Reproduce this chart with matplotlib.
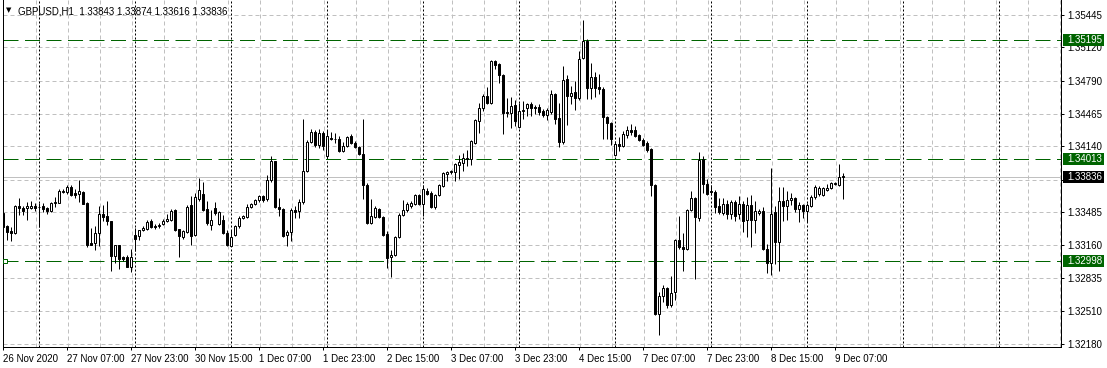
import numpy as np
import matplotlib
matplotlib.use("Agg")
import matplotlib.pyplot as plt
from matplotlib.patches import Rectangle
import matplotlib.transforms as mtransforms

plt.rcParams['font.family'] = ['Liberation Sans', 'DejaVu Sans']

symbol = "GBPUSD,H1"

# hourly bars, 26 Nov 2020 15:00 .. 9 Dec 2020 09:00
opens = [
    1.3348, 1.3335, 1.3330, 1.3328, 1.3355, 1.3353, 1.3353, 1.3353, 1.3355, 1.3354,
    1.3355, 1.3353, 1.3350, 1.3358, 1.3358, 1.3369, 1.3369, 1.3374, 1.3368, 1.3367,
    1.3369, 1.3358, 1.3318, 1.3318, 1.3328, 1.3347, 1.3345, 1.3340, 1.3305, 1.3316,
    1.3304, 1.3304, 1.3294, 1.3326, 1.3325, 1.3331, 1.3332, 1.3340, 1.3335, 1.3335,
    1.3337, 1.3340, 1.3341, 1.3351, 1.3332, 1.3324, 1.3329, 1.3356, 1.3326, 1.3362,
    1.3367, 1.3352, 1.3336, 1.3353, 1.3337, 1.3341, 1.3328, 1.3315, 1.3326, 1.3335,
    1.3343, 1.3344, 1.3354, 1.3357, 1.3361, 1.3365, 1.3362, 1.3381, 1.3399, 1.3354,
    1.3352, 1.3326, 1.3329, 1.3351, 1.3350, 1.3359, 1.3389, 1.3418, 1.3428, 1.3415,
    1.3427, 1.3404, 1.3422, 1.3421, 1.3421, 1.3409, 1.3414, 1.3424, 1.3417, 1.3413,
    1.3406, 1.3376, 1.3338, 1.3344, 1.3352, 1.3344, 1.3327, 1.3304, 1.3306, 1.3324,
    1.3346, 1.3351, 1.3355, 1.3357, 1.3366, 1.3357, 1.3370, 1.3368, 1.3354, 1.3366,
    1.3375, 1.3387, 1.3388, 1.3388, 1.3395, 1.3397, 1.3401, 1.3401, 1.3417, 1.3439,
    1.3452, 1.3464, 1.3457, 1.3499, 1.3496, 1.3485, 1.3448, 1.3447, 1.3455, 1.3433,
    1.3449, 1.3452, 1.3456, 1.3453, 1.3453, 1.3449, 1.3445, 1.3448, 1.3466, 1.3442,
    1.3418, 1.3481, 1.3464, 1.3468, 1.3462, 1.3502, 1.3518, 1.3472, 1.3483, 1.3473,
    1.3471, 1.3443, 1.3437, 1.3405, 1.3416, 1.3414, 1.3425, 1.3430, 1.3430, 1.3425,
    1.3420, 1.3417, 1.3411, 1.3376, 1.3248, 1.3265, 1.3273, 1.3257, 1.3269, 1.3321,
    1.3314, 1.3312, 1.3351, 1.3363, 1.3343, 1.3401, 1.3377, 1.3370, 1.3369, 1.3355,
    1.3348, 1.3357, 1.3347, 1.3359, 1.3347, 1.3357, 1.3341, 1.3356, 1.3341, 1.3348,
    1.3350, 1.3312, 1.3298, 1.3349, 1.3319, 1.3360, 1.3355, 1.3361, 1.3363, 1.3352,
    1.3356, 1.3350, 1.3355, 1.3364, 1.3367, 1.3366, 1.3371, 1.3373, 1.3377, 1.3376,
    1.33843,
]
highs = [
    1.3353, 1.3336, 1.3334, 1.3356, 1.3363, 1.3355, 1.3359, 1.3360, 1.3358, 1.3358,
    1.3358, 1.3354, 1.3359, 1.3364, 1.3372, 1.3372, 1.3376, 1.3376, 1.3372, 1.3381,
    1.3370, 1.3359, 1.3333, 1.3335, 1.3355, 1.3356, 1.3360, 1.3340, 1.3316, 1.3316,
    1.3305, 1.3306, 1.3312, 1.3333, 1.3331, 1.3335, 1.3341, 1.3342, 1.3337, 1.3338,
    1.3342, 1.3347, 1.3352, 1.3352, 1.3332, 1.3331, 1.3356, 1.3365, 1.3368, 1.3383,
    1.3379, 1.3360, 1.3351, 1.3359, 1.3350, 1.3346, 1.3331, 1.3331, 1.3336, 1.3345,
    1.3346, 1.3357, 1.3358, 1.3362, 1.3366, 1.3366, 1.3386, 1.3404, 1.3399, 1.3363,
    1.3353, 1.3331, 1.3353, 1.3355, 1.3362, 1.3441, 1.3420, 1.3431, 1.3430, 1.3431,
    1.3429, 1.3430, 1.3428, 1.3427, 1.3424, 1.3418, 1.3424, 1.3426, 1.3419, 1.3414,
    1.3441, 1.3378, 1.3362, 1.3355, 1.3353, 1.3345, 1.3330, 1.3311, 1.3325, 1.3348,
    1.3361, 1.3359, 1.3360, 1.3367, 1.3367, 1.3376, 1.3373, 1.3370, 1.3367, 1.3377,
    1.3388, 1.3389, 1.3390, 1.3397, 1.3405, 1.3407, 1.3410, 1.3420, 1.3441, 1.3457,
    1.3466, 1.3473, 1.3500, 1.3500, 1.3497, 1.3486, 1.3462, 1.3463, 1.3460, 1.3457,
    1.3459, 1.3457, 1.3458, 1.3455, 1.3456, 1.3451, 1.3452, 1.3470, 1.3467, 1.3457,
    1.3494, 1.3485, 1.3474, 1.3479, 1.3509, 1.3539, 1.3520, 1.3497, 1.3488, 1.3486,
    1.3473, 1.3444, 1.3438, 1.3419, 1.3423, 1.3429, 1.3434, 1.3436, 1.3434, 1.3426,
    1.3422, 1.3419, 1.3412, 1.3377, 1.3269, 1.3276, 1.3274, 1.3285, 1.3322, 1.3345,
    1.3328, 1.3352, 1.3370, 1.3364, 1.3408, 1.3404, 1.3382, 1.3376, 1.3371, 1.3363,
    1.3363, 1.3361, 1.3361, 1.3361, 1.3365, 1.3360, 1.3364, 1.3366, 1.3360, 1.3352,
    1.3354, 1.3317, 1.3392, 1.3355, 1.3374, 1.3374, 1.3370, 1.3368, 1.3364, 1.3359,
    1.3357, 1.3358, 1.3366, 1.3376, 1.3375, 1.3374, 1.3377, 1.3379, 1.3379, 1.3396,
    1.33874,
]
lows = [
    1.3329, 1.3321, 1.3320, 1.3327, 1.3346, 1.3346, 1.3341, 1.3352, 1.3350, 1.3334,
    1.3349, 1.3347, 1.3349, 1.3354, 1.3358, 1.3368, 1.3367, 1.3365, 1.3363, 1.3359,
    1.3357, 1.3314, 1.3316, 1.3311, 1.3315, 1.3340, 1.3336, 1.3290, 1.3298, 1.3292,
    1.3300, 1.3294, 1.3289, 1.3310, 1.3321, 1.3330, 1.3331, 1.3333, 1.3332, 1.3333,
    1.3336, 1.3339, 1.3340, 1.3330, 1.3304, 1.3322, 1.3328, 1.3316, 1.3325, 1.3360,
    1.3350, 1.3336, 1.3331, 1.3346, 1.3336, 1.3327, 1.3315, 1.3315, 1.3325, 1.3333,
    1.3342, 1.3343, 1.3353, 1.3356, 1.3359, 1.3359, 1.3360, 1.3379, 1.3353, 1.3345,
    1.3324, 1.3315, 1.3320, 1.3343, 1.3343, 1.3357, 1.3388, 1.3417, 1.3413, 1.3412,
    1.3410, 1.3402, 1.3420, 1.3417, 1.3408, 1.3408, 1.3413, 1.3416, 1.3412, 1.3405,
    1.3362, 1.3337, 1.3337, 1.3343, 1.3343, 1.3325, 1.3293, 1.3284, 1.3305, 1.3323,
    1.3345, 1.3349, 1.3353, 1.3356, 1.3356, 1.3345, 1.3366, 1.3353, 1.3352, 1.3365,
    1.3374, 1.3380, 1.3387, 1.3380, 1.3382, 1.3389, 1.3394, 1.3395, 1.3416, 1.3427,
    1.3449, 1.3456, 1.3456, 1.3491, 1.3477, 1.3426, 1.3443, 1.3432, 1.3434, 1.3432,
    1.3441, 1.3444, 1.3444, 1.3446, 1.3445, 1.3443, 1.3440, 1.3446, 1.3436, 1.3413,
    1.3416, 1.3435, 1.3456, 1.3450, 1.3460, 1.3501, 1.3461, 1.3461, 1.3463, 1.3466,
    1.3421, 1.3421, 1.3415, 1.3404, 1.3409, 1.3413, 1.3422, 1.3425, 1.3423, 1.3419,
    1.3414, 1.3408, 1.3365, 1.3247, 1.3227, 1.3260, 1.3254, 1.3255, 1.3262, 1.3312,
    1.3290, 1.3311, 1.3350, 1.3282, 1.3340, 1.3368, 1.3366, 1.3366, 1.3348, 1.3347,
    1.3346, 1.3342, 1.3342, 1.3340, 1.3342, 1.3329, 1.3324, 1.3314, 1.3328, 1.3346,
    1.3311, 1.3288, 1.3286, 1.3297, 1.3290, 1.3340, 1.3341, 1.3356, 1.3349, 1.3339,
    1.3343, 1.3339, 1.3354, 1.3362, 1.3365, 1.3365, 1.3370, 1.3372, 1.3376, 1.3375,
    1.33616,
]
closes = [
    1.3334, 1.3329, 1.3328, 1.3355, 1.3353, 1.3350, 1.3355, 1.3355, 1.3353, 1.3354,
    1.3352, 1.3350, 1.3358, 1.3359, 1.3370, 1.3370, 1.3374, 1.3366, 1.3366, 1.3370,
    1.3357, 1.3316, 1.3316, 1.3328, 1.3347, 1.3344, 1.3340, 1.3305, 1.3316, 1.3302,
    1.3302, 1.3294, 1.3304, 1.3322, 1.3331, 1.3333, 1.3339, 1.3334, 1.3334, 1.3336,
    1.3340, 1.3342, 1.3350, 1.3331, 1.3325, 1.3330, 1.3354, 1.3325, 1.3364, 1.3371,
    1.3351, 1.3338, 1.3341, 1.3348, 1.3349, 1.3328, 1.3316, 1.3324, 1.3335, 1.3343,
    1.3345, 1.3354, 1.3357, 1.3361, 1.3365, 1.3361, 1.3381, 1.3399, 1.3354, 1.3352,
    1.3325, 1.3329, 1.3351, 1.3349, 1.3359, 1.3389, 1.3418, 1.3428, 1.3415, 1.3427,
    1.3414, 1.3424, 1.3421, 1.3421, 1.3409, 1.3414, 1.3423, 1.3417, 1.3413, 1.3406,
    1.3376, 1.3338, 1.3345, 1.3353, 1.3344, 1.3326, 1.3303, 1.3306, 1.3324, 1.3346,
    1.3351, 1.3357, 1.3358, 1.3366, 1.3357, 1.3372, 1.3367, 1.3354, 1.3366, 1.3376,
    1.3387, 1.3388, 1.3389, 1.3396, 1.3398, 1.3402, 1.3402, 1.3419, 1.3440, 1.3452,
    1.3464, 1.3457, 1.3499, 1.3495, 1.3485, 1.3447, 1.3447, 1.3454, 1.3439, 1.3449,
    1.3450, 1.3456, 1.3452, 1.3452, 1.3448, 1.3445, 1.3450, 1.3466, 1.3441, 1.3418,
    1.3480, 1.3464, 1.3467, 1.3462, 1.3501, 1.3518, 1.3472, 1.3483, 1.3472, 1.3471,
    1.3443, 1.3437, 1.3421, 1.3416, 1.3414, 1.3426, 1.3430, 1.3428, 1.3424, 1.3420,
    1.3415, 1.3410, 1.3376, 1.3248, 1.3265, 1.3273, 1.3257, 1.3268, 1.3321, 1.3314,
    1.3312, 1.3351, 1.3363, 1.3344, 1.3400, 1.3377, 1.3367, 1.3369, 1.3354, 1.3349,
    1.3357, 1.3347, 1.3359, 1.3345, 1.3357, 1.3340, 1.3356, 1.3341, 1.3350, 1.3350,
    1.3312, 1.3298, 1.3347, 1.3319, 1.3360, 1.3355, 1.3361, 1.3363, 1.3352, 1.3356,
    1.3350, 1.3356, 1.3364, 1.3374, 1.3373, 1.3373, 1.3373, 1.3378, 1.3378, 1.3384,
    1.33836,
]

price_ticks = [1.32180, 1.32510, 1.32835, 1.33160, 1.33485, 1.33810,
               1.34140, 1.34465, 1.34790, 1.35120, 1.35445]
level_lines = [1.35195, 1.34013, 1.32998]
bid = 1.33836

label_bars = [0, 16, 32, 48, 64, 80, 96, 112, 128, 144, 160, 176, 192, 208]
time_labels = ["26 Nov 2020", "27 Nov 07:00", "27 Nov 23:00", "30 Nov 15:00",
               "1 Dec 07:00", "1 Dec 23:00", "2 Dec 15:00", "3 Dec 07:00",
               "3 Dec 23:00", "4 Dec 15:00", "7 Dec 07:00", "7 Dec 23:00",
               "8 Dec 15:00", "9 Dec 07:00"]
day_starts = [9, 33, 57, 81, 105, 129, 153, 177, 201, 225, 249]


def main():
    W, H = 1107, 368
    fig = plt.figure(figsize=(W / 100, H / 100), dpi=100)
    ax = fig.add_axes([3 / W, 21 / H, 1058 / W, 347 / H])

    o = np.array(opens)
    h = np.array(highs)
    l = np.array(lows)
    c = np.array(closes)
    x = np.arange(len(c))

    ax.set_xlim(-0.08, 264.4)
    ax.set_ylim(1.32149, 1.35591)

    px = 0.72  # one pixel in points
    green = '#006400'

    # grid
    for p in price_ticks:
        ax.axhline(p, color='#c0c0c0', lw=px, ls=(0, (4, 3)), zorder=1)
    for b in range(8, 265, 8):
        ax.axvline(b + 0.2, color='#c0c0c0', lw=px, ls=(0, (4, 3)), zorder=1)
    for b in day_starts:
        ax.axvline(b, color='black', lw=px, ls=(0, (2, 2)), zorder=2)

    # bid line and levels
    ax.axhline(bid, color='#c0c0c0', lw=px, zorder=2)
    for p in level_lines:
        ax.axhline(p, color=green, lw=px, ls=(0, (15, 6.5)), zorder=2)

    # candles
    up = c >= o
    ax.vlines(x, l, h, color='black', lw=px, zorder=3)
    ax.bar(x, np.abs(c - o), bottom=np.minimum(o, c), width=0.5,
           color=np.where(up, 'white', 'black'), edgecolor='black',
           linewidth=px, zorder=4)

    blend = mtransforms.blended_transform_factory(ax.transAxes, ax.transData)
    ax.plot([0.0022], [level_lines[2]], marker='s', ms=3.2, mfc='white',
            mec=green, mew=px, transform=blend, clip_on=False, zorder=5)

    # axes styling
    for s in ['left', 'right', 'bottom']:
        ax.spines[s].set_linewidth(px)
    ax.spines['top'].set_visible(False)

    # the tick label nearest the bid is covered by the bid tag
    ax.yaxis.tick_right()
    ax.set_yticks(price_ticks)
    ax.set_yticklabels(["" if abs(p - bid) < 0.0005 else f"{p:.5f}"
                        for p in price_ticks])
    ax.tick_params(axis='y', length=2.2, width=px, pad=2.5, labelsize=7)

    ax.set_xticks(label_bars)
    ax.set_xticklabels(time_labels, ha='left')
    ax.tick_params(axis='x', length=2.5, width=px, pad=2.5, labelsize=7)

    # price tags on right
    tag_h = 0.00119
    tags = [(p, green) for p in level_lines] + [(bid, 'black')]
    for p, col in tags:
        ax.add_patch(Rectangle((1.0019, p - tag_h / 2), 0.0388, tag_h,
                               transform=blend, facecolor=col, edgecolor='none',
                               clip_on=False, zorder=6))
        ax.text(1.0057, p, f"{p:.5f}", transform=blend, color='white',
                fontsize=7, va='center', ha='left', clip_on=False, zorder=7)

    # header
    title = f"{symbol}  {opens[-1]:.5f} {highs[-1]:.5f} {lows[-1]:.5f} {closes[-1]:.5f}"
    fig.text(9 / W, 1 - 10 / H, "\u25bc", fontsize=5, ha='center', va='center',
             family='DejaVu Sans')
    fig.text(18 / W, 1 - 11 / H, title, fontsize=7, va='center', ha='left')

    fig.savefig("out.png", dpi=100)


if __name__ == "__main__":
    main()
